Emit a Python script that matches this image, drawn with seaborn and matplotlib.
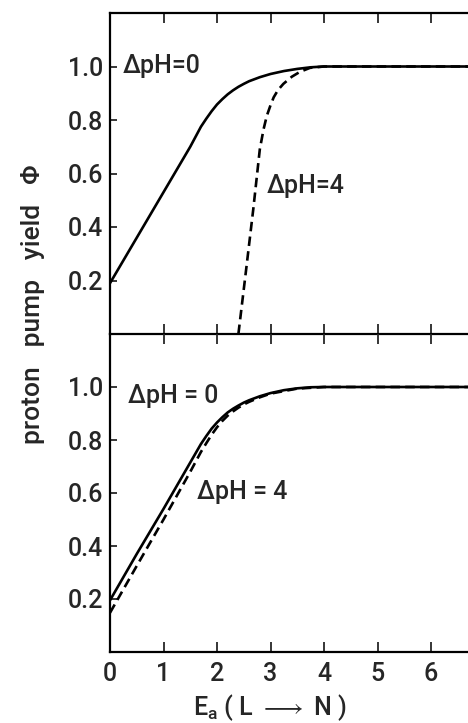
import matplotlib
matplotlib.use("Agg")
import matplotlib.pyplot as plt
import seaborn as sns
import pandas as pd

sns.set_style("ticks")
plt.rcParams['font.family'] = ['Roboto', 'DejaVu Sans']
plt.rcParams['font.weight'] = 'medium'
plt.rcParams['mathtext.fontset'] = 'custom'
plt.rcParams['mathtext.rm'] = 'Roboto:medium'

# ---- data ----
top_solid_x = [0, 0.5, 1.0, 1.5, 1.7, 1.8, 1.9, 2.0, 2.1, 2.2, 2.3, 2.4, 2.5, 2.6, 2.8, 3.0, 3.25, 3.5, 3.75, 4.0, 5.0, 6.0, 7.0]
top_solid_y = [0.19, 0.36, 0.53, 0.70, 0.775, 0.805, 0.833, 0.858, 0.878, 0.896, 0.911, 0.924, 0.935, 0.945, 0.96, 0.972, 0.983, 0.991, 0.997, 1.0, 1.0, 1.0, 1.0]
top_dash_x = [2.40, 2.55, 2.68, 2.80, 2.87, 2.93, 3.0, 3.06, 3.14, 3.24, 3.4, 3.55, 3.74, 4.0, 5.0, 6.0, 7.0]
top_dash_y = [0.0, 0.25, 0.47, 0.69, 0.765, 0.815, 0.855, 0.885, 0.912, 0.935, 0.962, 0.98, 0.995, 1.0, 1.0, 1.0, 1.0]

bot_solid_x = [0, 0.5, 1.0, 1.5, 1.7, 1.8, 1.9, 2.0, 2.1, 2.2, 2.3, 2.4, 2.5, 2.6, 2.8, 3.0, 3.25, 3.5, 3.75, 4.0, 5.0, 6.0, 7.0]
bot_solid_y = [0.195, 0.37, 0.54, 0.715, 0.785, 0.815, 0.843, 0.866, 0.886, 0.904, 0.918, 0.93, 0.941, 0.95, 0.965, 0.977, 0.988, 0.995, 0.999, 1.0, 1.0, 1.0, 1.0]
bot_dash_x = [0, 0.5, 1.0, 1.5, 1.7, 1.8, 1.9, 2.0, 2.1, 2.2, 2.3, 2.4, 2.5, 2.6, 2.8, 3.0, 3.5, 4.0, 5.0, 6.0, 7.0]
bot_dash_y = [0.148, 0.325, 0.50, 0.68, 0.755, 0.788, 0.82, 0.848, 0.872, 0.892, 0.908, 0.922, 0.934, 0.944, 0.961, 0.975, 0.994, 1.0, 1.0, 1.0, 1.0]

x_ticks = [0, 1, 2, 3, 4, 5, 6]
y_ticks = [0.2, 0.4, 0.6, 0.8, 1.0]
y_tick_labels = ["0.2", "0.4", "0.6", "0.8", "1.0"]
series_names = ["0", "4"]


def make_df(sx, sy, dx, dy):
    return pd.DataFrame({
        "E": list(sx) + list(dx),
        "phi": list(sy) + list(dy),
        "dpH": [series_names[0]] * len(sx) + [series_names[1]] * len(dx),
    })


W, H = 468, 723
fig = plt.figure(figsize=(W / 100, H / 100), dpi=100)
L, R = 110, 468
ax1 = fig.add_axes([L / W, (H - 334) / H, (R - L) / W, (334 - 13) / H])
ax2 = fig.add_axes([L / W, (H - 652) / H, (R - L) / W, (652 - 334) / H])

dashes = {"0": "", "4": (3.6, 2.0)}
FS = 18
for ax, df in [(ax1, make_df(top_solid_x, top_solid_y, top_dash_x, top_dash_y)),
               (ax2, make_df(bot_solid_x, bot_solid_y, bot_dash_x, bot_dash_y))]:
    sns.lineplot(data=df, x="E", y="phi", style="dpH", dashes=dashes, color="black",
                 estimator=None, sort=False, legend=False, ax=ax, linewidth=1.9)
    ax.set_xlim(0, (R - L) / 53.5)
    ax.set_ylim(0, 1.2)
    ax.set_xticks(x_ticks)
    ax.set_yticks(y_ticks)
    ax.set_yticklabels(y_tick_labels)
    ax.set_xlabel("")
    ax.set_ylabel("")
    ax.spines["right"].set_visible(False)
    for s in ["left", "top", "bottom"]:
        ax.spines[s].set_linewidth(1.6)
        ax.spines[s].set_color("black")
    ax.tick_params(axis="y", direction="in", length=5, width=1.3, pad=5, labelsize=FS, left=True, right=False)
    ax.tick_params(axis="x", direction="in", length=7, width=1.3, pad=7, labelsize=FS, top=True, bottom=True)
    ax.set_facecolor("none")

ax1.tick_params(axis="x", labelbottom=False)
ax2.spines["top"].set_visible(False)

ax1.text(0.24, 0.974, "ΔpH=0", fontsize=FS, ha="left", va="baseline")
ax1.text(2.93, 0.526, "ΔpH=4", fontsize=FS, ha="left", va="baseline")
ax2.text(0.34, 0.94, "ΔpH = 0", fontsize=FS, ha="left", va="baseline")
ax2.text(1.63, 0.577, "ΔpH = 4", fontsize=FS, ha="left", va="baseline")

fig.text(33 / W, 1 - 304 / H, "proton   pump   yield   Φ", rotation=90, ha="center", va="center", fontsize=19)
fig.text(270 / W, 1 - 715 / H, r"E$_\mathregular{a}$ ( L $\longrightarrow$ N )", ha="center", va="baseline", fontsize=FS)

fig.savefig("out.png", dpi=100)
